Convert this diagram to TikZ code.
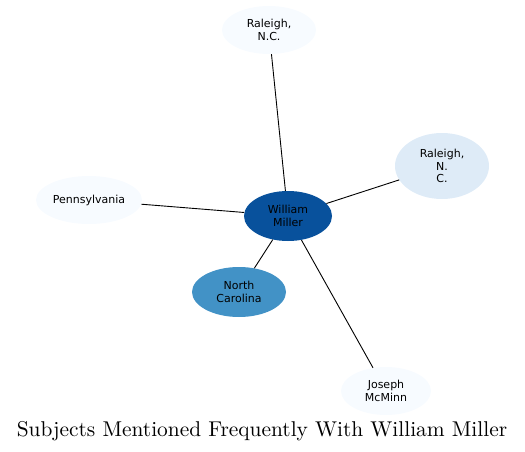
\documentclass[tikz,border=0pt]{standalone}
\usepackage{fontspec}
\newfontfamily\nodefont{DejaVu Sans}
\usetikzlibrary{shapes.geometric}
\definecolor{pale}{HTML}{F7FBFF}
\definecolor{light}{HTML}{DEEBF7}
\definecolor{mid}{HTML}{4292C6}
\definecolor{dark}{HTML}{08519C}
\tikzset{
  ent/.style={ellipse, draw=none, inner sep=0pt, align=center,
    font=\nodefont\fontsize{11}{12.5}\selectfont},
  link/.style={draw=black, line width=0.9pt}
}
\begin{document}
\begin{tikzpicture}[x=1pt,y=-1pt]
\useasboundingbox (0,0) rectangle (525,452);
\node[ent, fill=pale, minimum width=94pt, minimum height=48pt] (r1) at (269,30) {Raleigh,\\N.C.};
\node[ent, fill=light, minimum width=94pt, minimum height=66pt] (r2) at (442,166) {Raleigh,\\N.\\C.};
\node[ent, fill=dark, minimum width=88pt, minimum height=50pt] (wm) at (288,216) {William\\Miller};
\node[ent, fill=mid, minimum width=94pt, minimum height=50pt] (nc) at (239,292) {North\\Carolina};
\node[ent, fill=pale, minimum width=106pt, minimum height=48pt] (pa) at (89,200) {Pennsylvania};
\node[ent, fill=pale, minimum width=90pt, minimum height=48pt] (jm) at (386,391) {Joseph\\McMinn};
\node[inner sep=0pt] (title) at (262,431) {\scalebox{2.14}{\fontsize{10}{12}\selectfont Subjects Mentioned Frequently With William Miller}};
\draw[link] (wm) -- (r1);
\draw[link] (wm) -- (r2);
\draw[link] (wm) -- (nc);
\draw[link] (wm) -- (pa);
\draw[link] (wm) -- (jm);
\end{tikzpicture}
\end{document}
